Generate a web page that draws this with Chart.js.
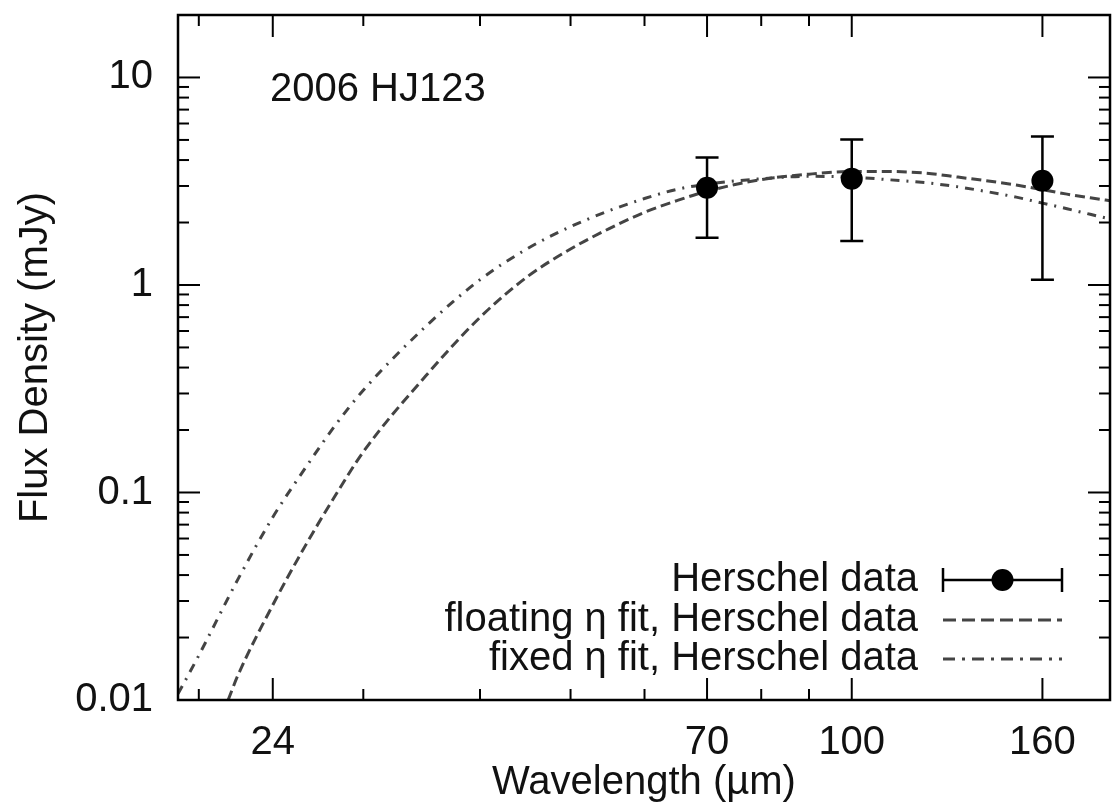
<!DOCTYPE html>
<html>
<head>
<meta charset="utf-8">
<script src="https://cdn.jsdelivr.net/npm/chart.js@4/dist/chart.umd.min.js"></script>
<style>
    html, body { margin: 0; padding: 0; background: #fff; }
    canvas { display: block; }
</style>
</head>
<body>
<canvas id="sedChart" width="1113" height="807"></canvas>
<script>
// Herschel photometry (wavelength in micron, flux in mJy)
const herschelWave = [70, 100, 160];
const herschelFlux = [2.94, 3.25, 3.18];
const herschelLow = [1.69, 1.63, 1.06];
const herschelHigh = [4.11, 5.02, 5.19];

// floating eta model curve
const floatingWave = [21.5, 22, 24, 26, 28, 30, 35, 40, 45, 50, 55, 60, 65, 70, 80, 90, 100, 110, 120, 130, 140, 150, 160, 170, 180, 190];
const floatingFlux = [0.0100, 0.0130, 0.0287, 0.0553, 0.0967, 0.157, 0.365, 0.698, 1.10, 1.49, 1.87, 2.24, 2.55, 2.83, 3.22, 3.42, 3.52, 3.52, 3.46, 3.31, 3.17, 3.03, 2.88, 2.74, 2.63, 2.54];

// fixed eta model curve
const fixedWave = [19, 20, 22, 24, 26, 28, 30, 35, 40, 45, 50, 55, 60, 65, 70, 80, 90, 100, 110, 120, 130, 140, 150, 160, 170, 180, 190];
const fixedFlux = [0.0107, 0.0164, 0.0378, 0.0760, 0.131, 0.211, 0.311, 0.632, 1.06, 1.50, 1.91, 2.28, 2.61, 2.89, 3.06, 3.25, 3.34, 3.31, 3.21, 3.11, 2.97, 2.81, 2.65, 2.48, 2.33, 2.19, 2.07];

// axis ticks
const xMajorTicks = [24, 70, 100, 160];
const xMinorTicks = [20, 30, 40, 50, 60, 80, 90];
const yMajorTicks = [0.01, 0.1, 1, 10];
const yMinorTicks = [0.02, 0.03, 0.04, 0.05, 0.06, 0.07, 0.08, 0.09,
                     0.2, 0.3, 0.4, 0.5, 0.6, 0.7, 0.8, 0.9,
                     2, 3, 4, 5, 6, 7, 8, 9];

const labelFont = { family: 'Liberation Sans, Arial, sans-serif', size: 40 };
const inkColor = '#111';
const curveColor = '#444';

Chart.defaults.font.family = labelFont.family;
Chart.defaults.color = inkColor;

// error bars behind the markers
const errorBars = {
    id: 'errorBars',
    afterDatasetsDraw(chart) {
        const { ctx, scales: { x, y } } = chart;
        ctx.save();
        ctx.strokeStyle = '#000';
        ctx.lineWidth = 2.5;
        herschelWave.forEach((w, i) => {
            const px = x.getPixelForValue(w);
            const top = y.getPixelForValue(herschelHigh[i]);
            const bot = y.getPixelForValue(herschelLow[i]);
            ctx.beginPath();
            ctx.moveTo(px, top); ctx.lineTo(px, bot);
            ctx.moveTo(px - 11.5, top); ctx.lineTo(px + 11.5, top);
            ctx.moveTo(px - 11.5, bot); ctx.lineTo(px + 11.5, bot);
            ctx.stroke();
        });
        ctx.restore();
    }
};

// gnuplot style frame with inward ticks on all four sides
const frameTicks = {
    id: 'frameTicks',
    afterDraw(chart) {
        const { ctx, chartArea: a, scales: { x, y } } = chart;
        ctx.save();
        ctx.strokeStyle = '#000';
        ctx.lineWidth = 2;
        const line = (x1, y1, x2, y2) => {
            ctx.beginPath(); ctx.moveTo(x1, y1); ctx.lineTo(x2, y2); ctx.stroke();
        };
        const xTick = (v, len) => {
            const p = x.getPixelForValue(v);
            line(p, a.bottom, p, a.bottom - len);
            line(p, a.top, p, a.top + len);
        };
        const yTick = (v, len) => {
            const p = y.getPixelForValue(v);
            line(a.left, p, a.left + len, p);
            line(a.right, p, a.right - len, p);
        };
        xMajorTicks.forEach(v => xTick(v, 22));
        xMinorTicks.forEach(v => xTick(v, 11));
        yMajorTicks.forEach(v => yTick(v, 22));
        yMinorTicks.forEach(v => yTick(v, 11));
        ctx.lineWidth = 2.5;
        ctx.strokeRect(a.left, a.top, a.right - a.left, a.bottom - a.top);

        // object name
        ctx.fillStyle = inkColor;
        ctx.font = '40px ' + labelFont.family;
        ctx.textAlign = 'left';
        ctx.textBaseline = 'middle';
        ctx.fillText('2006 HJ123', 270, 90);
        ctx.restore();
    }
};

// legend in the lower right, text right-aligned with the sample after it
const sedLegend = {
    id: 'sedLegend',
    afterDraw(chart) {
        const { ctx } = chart;
        const textRight = 918, s1 = 943, s2 = 1062;
        const rows = [
            { text: 'Herschel data', y: 580 },
            { text: 'floating \u03b7 fit, Herschel data', y: 620, dash: [13, 6] },
            { text: 'fixed \u03b7 fit, Herschel data', y: 659, dash: [12, 7, 3, 7] }
        ];
        ctx.save();
        ctx.font = '40px ' + labelFont.family;
        ctx.fillStyle = inkColor;
        ctx.textAlign = 'right';
        ctx.textBaseline = 'middle';
        rows.forEach(r => ctx.fillText(r.text, textRight, r.y));

        // errorbar sample
        const yb = rows[0].y;
        ctx.strokeStyle = '#000';
        ctx.lineWidth = 2.5;
        ctx.beginPath();
        ctx.moveTo(s1, yb); ctx.lineTo(s2, yb);
        ctx.moveTo(s1, yb - 12); ctx.lineTo(s1, yb + 12);
        ctx.moveTo(s2, yb - 12); ctx.lineTo(s2, yb + 12);
        ctx.stroke();
        ctx.fillStyle = '#000';
        ctx.beginPath();
        ctx.arc((s1 + s2) / 2, yb, 11, 0, Math.PI * 2);
        ctx.fill();

        // line samples
        ctx.strokeStyle = curveColor;
        ctx.lineWidth = 3;
        rows.slice(1).forEach(r => {
            ctx.setLineDash(r.dash);
            ctx.beginPath();
            ctx.moveTo(s1, r.y); ctx.lineTo(s2, r.y);
            ctx.stroke();
        });
        ctx.restore();
    }
};

const ctx = document.getElementById('sedChart').getContext('2d');
const myChart = new Chart(ctx, {
    type: 'line',
    data: {
        datasets: [
            {
                label: 'Herschel data',
                data: herschelWave.map((w, i) => ({ x: w, y: herschelFlux[i] })),
                showLine: false,
                pointRadius: 11,
                pointBackgroundColor: '#000',
                pointBorderColor: '#000',
                pointBorderWidth: 0,
                order: 0
            },
            {
                label: 'floating \u03b7 fit, Herschel data',
                data: floatingWave.map((w, i) => ({ x: w, y: floatingFlux[i] })),
                borderColor: curveColor,
                borderWidth: 3,
                borderDash: [10, 5],
                pointRadius: 0,
                cubicInterpolationMode: 'monotone',
                fill: false,
                order: 1
            },
            {
                label: 'fixed \u03b7 fit, Herschel data',
                data: fixedWave.map((w, i) => ({ x: w, y: fixedFlux[i] })),
                borderColor: curveColor,
                borderWidth: 3,
                borderDash: [9, 7, 2, 7],
                pointRadius: 0,
                cubicInterpolationMode: 'monotone',
                fill: false,
                order: 2
            }
        ]
    },
    options: {
        responsive: false,
        animation: false,
        // no extra room for the big markers, the frame is placed by hand
        layout: { autoPadding: false, padding: { top: 15, right: 3, left: 0, bottom: 0 } },
        plugins: { legend: { display: false }, tooltip: { enabled: false } },
        scales: {
            x: {
                type: 'logarithmic',
                min: 19,
                max: 189,
                afterBuildTicks: s => { s.ticks = xMajorTicks.map(v => ({ value: v })); },
                afterFit: s => { s.height = 107; s.paddingLeft = 0; s.paddingRight = 0; },
                grid: { display: false, drawTicks: false },
                border: { display: false },
                ticks: {
                    callback: v => String(v),
                    autoSkip: false,
                    maxRotation: 0,
                    padding: 19,
                    font: labelFont,
                    color: inkColor
                },
                title: {
                    display: true,
                    text: 'Wavelength (\u00b5m)',
                    font: labelFont,
                    color: inkColor,
                    padding: { top: 0, bottom: 0 }
                }
            },
            y: {
                type: 'logarithmic',
                min: 0.01,
                max: 20,
                afterBuildTicks: s => { s.ticks = yMajorTicks.map(v => ({ value: v })); },
                afterFit: s => { s.width = 178; s.paddingTop = 0; s.paddingBottom = 0; },
                grid: { display: false, drawTicks: false },
                border: { display: false },
                ticks: {
                    callback: v => String(v),
                    autoSkip: false,
                    padding: 25,
                    font: labelFont,
                    color: inkColor
                },
                title: {
                    display: true,
                    text: 'Flux Density (mJy)',
                    font: labelFont,
                    color: inkColor,
                    padding: { top: 12, bottom: 0 }
                }
            }
        }
    },
    plugins: [errorBars, frameTicks, sedLegend]
});
</script>
</body>
</html>
